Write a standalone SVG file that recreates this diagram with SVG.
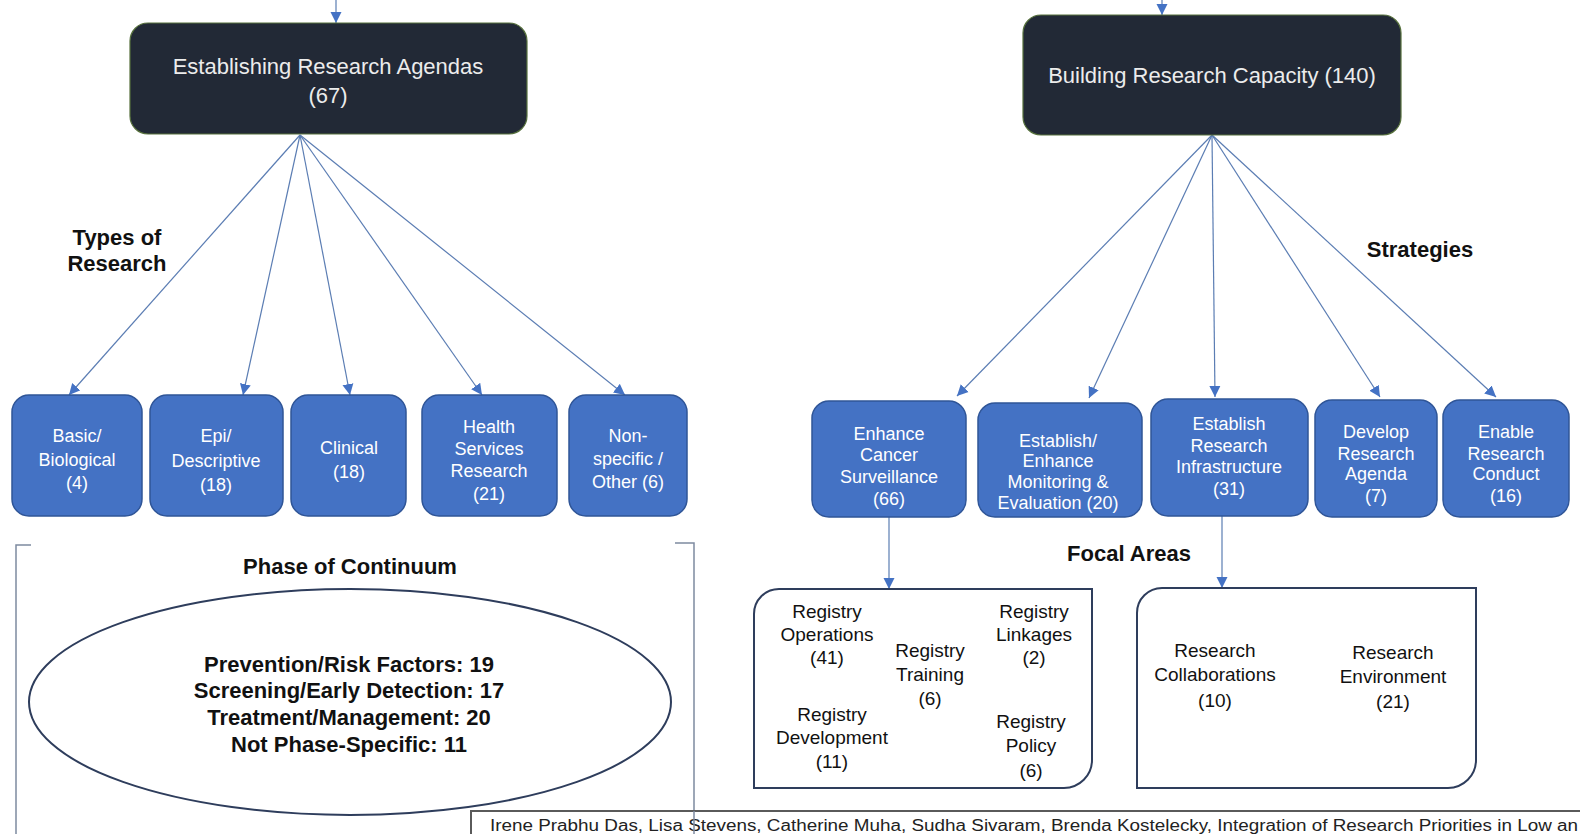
<svg xmlns="http://www.w3.org/2000/svg" width="1580" height="834" viewBox="0 0 1580 834">
<style>
text{font-family:"Liberation Sans",Arial,sans-serif;text-anchor:middle}
.dark{fill:#222936;stroke:#56703c;stroke-width:1.2}
.blue{fill:#4472c4;stroke:#2f5597;stroke-width:1.5}
.dk{fill:#ececec;font-size:22px}
.wt{fill:#ffffff;font-size:18px}
.lb{fill:#111;font-size:22px;font-weight:bold}
.fc{fill:#111;font-size:19px}
.conn{stroke:#5b7db3;stroke-width:1.2;fill:none}
.foc{fill:#fff;stroke:#2e3d5c;stroke-width:2}
.br{stroke:#7d8aa0;stroke-width:1.5;fill:none}
</style>
<defs>
<marker id="ah" markerWidth="12" markerHeight="12" refX="11" refY="6" orient="auto" markerUnits="userSpaceOnUse">
<path d="M0,0.5 L11,6 L0,11.5 z" fill="#4472c4"/>
</marker>
</defs>
<rect width="1580" height="834" fill="#fff"/>

<g id="connectors">
<line class="conn" x1="336" y1="0" x2="336" y2="23" marker-end="url(#ah)"/>
<line class="conn" x1="1162" y1="0" x2="1162" y2="15" marker-end="url(#ah)"/>
<line class="conn" x1="300" y1="135" x2="69" y2="395" marker-end="url(#ah)"/>
<line class="conn" x1="300" y1="135" x2="243" y2="395" marker-end="url(#ah)"/>
<line class="conn" x1="300" y1="135" x2="350" y2="395" marker-end="url(#ah)"/>
<line class="conn" x1="300" y1="135" x2="482" y2="395" marker-end="url(#ah)"/>
<line class="conn" x1="300" y1="135" x2="625" y2="395" marker-end="url(#ah)"/>
<line class="conn" x1="1212" y1="135" x2="957" y2="396" marker-end="url(#ah)"/>
<line class="conn" x1="1212" y1="135" x2="1089" y2="398" marker-end="url(#ah)"/>
<line class="conn" x1="1212" y1="135" x2="1215" y2="397" marker-end="url(#ah)"/>
<line class="conn" x1="1212" y1="135" x2="1380" y2="397" marker-end="url(#ah)"/>
<line class="conn" x1="1212" y1="135" x2="1496" y2="397" marker-end="url(#ah)"/>
<line class="conn" x1="889" y1="517" x2="889" y2="589" marker-end="url(#ah)"/>
<line class="conn" x1="1222" y1="515" x2="1222" y2="588" marker-end="url(#ah)"/>
</g>

<g id="establishing">
<rect class="dark" x="130" y="23" width="397" height="111" rx="18"/>
<text class="dk" x="328" y="74">Establishing Research Agendas</text>
<text class="dk" x="328" y="103">(67)</text>
</g>
<g id="building">
<rect class="dark" x="1023" y="15" width="378" height="120" rx="18"/>
<text class="dk" x="1212" y="83">Building Research Capacity (140)</text>
</g>

<text id="types-label" class="lb"><tspan x="117" y="245">Types of</tspan><tspan x="117" y="271">Research</tspan></text>
<text id="strategies-label" class="lb" x="1420" y="257">Strategies</text>
<text id="focal-label" class="lb" x="1129" y="561">Focal Areas</text>

<g id="basic">
<rect class="blue" x="12" y="395" width="130" height="121" rx="17"/>
<text class="wt"><tspan x="77" y="442">Basic/</tspan><tspan x="77" y="466">Biological</tspan><tspan x="77" y="489">(4)</tspan></text>
</g>
<g id="epi">
<rect class="blue" x="150" y="395" width="133" height="121" rx="17"/>
<text class="wt"><tspan x="216" y="442">Epi/</tspan><tspan x="216" y="467">Descriptive</tspan><tspan x="216" y="491">(18)</tspan></text>
</g>
<g id="clinical">
<rect class="blue" x="291" y="395" width="115" height="121" rx="17"/>
<text class="wt"><tspan x="349" y="454">Clinical</tspan><tspan x="349" y="478">(18)</tspan></text>
</g>
<g id="health">
<rect class="blue" x="422" y="395" width="135" height="121" rx="17"/>
<text class="wt"><tspan x="489" y="433">Health</tspan><tspan x="489" y="455">Services</tspan><tspan x="489" y="477">Research</tspan><tspan x="489" y="500">(21)</tspan></text>
</g>
<g id="nonspecific">
<rect class="blue" x="569" y="395" width="118" height="121" rx="17"/>
<text class="wt"><tspan x="628" y="442">Non-</tspan><tspan x="628" y="465">specific /</tspan><tspan x="628" y="488">Other (6)</tspan></text>
</g>

<g id="surveillance">
<rect class="blue" x="812" y="401" width="154" height="116" rx="17"/>
<text class="wt"><tspan x="889" y="440">Enhance</tspan><tspan x="889" y="461">Cancer</tspan><tspan x="889" y="483">Surveillance</tspan><tspan x="889" y="505">(66)</tspan></text>
</g>
<g id="monitoring">
<rect class="blue" x="978" y="403" width="164" height="114" rx="17"/>
<text class="wt"><tspan x="1058" y="447">Establish/</tspan><tspan x="1058" y="467">Enhance</tspan><tspan x="1058" y="488">Monitoring &amp;</tspan><tspan x="1058" y="509">Evaluation  (20)</tspan></text>
</g>
<g id="infrastructure">
<rect class="blue" x="1151" y="399" width="157" height="117" rx="17"/>
<text class="wt"><tspan x="1229" y="430">Establish</tspan><tspan x="1229" y="452">Research</tspan><tspan x="1229" y="473">Infrastructure</tspan><tspan x="1229" y="495">(31)</tspan></text>
</g>
<g id="agenda">
<rect class="blue" x="1315" y="400" width="122" height="117" rx="17"/>
<text class="wt"><tspan x="1376" y="438">Develop</tspan><tspan x="1376" y="460">Research</tspan><tspan x="1376" y="480">Agenda</tspan><tspan x="1376" y="502">(7)</tspan></text>
</g>
<g id="conduct">
<rect class="blue" x="1443" y="400" width="126" height="117" rx="17"/>
<text class="wt"><tspan x="1506" y="438">Enable</tspan><tspan x="1506" y="460">Research</tspan><tspan x="1506" y="480">Conduct</tspan><tspan x="1506" y="502">(16)</tspan></text>
</g>

<g id="phase">
<path class="br" d="M31,545 H16 V834"/>
<path class="br" d="M675,543 H694 V834"/>
<text class="lb" x="350" y="574">Phase of Continuum</text>
<ellipse cx="350" cy="702" rx="321" ry="113" fill="#fff" stroke="#2e3d5c" stroke-width="2"/>
<text class="lb" x="349" y="672">Prevention/Risk Factors: 19</text>
<text class="lb" x="349" y="698">Screening/Early Detection: 17</text>
<text class="lb" x="349" y="725">Treatment/Management: 20</text>
<text class="lb" x="349" y="752">Not Phase-Specific: 11</text>
</g>

<g id="registry-areas">
<path class="foc" d="M754,614 A25,25 0 0 1 779,589 H1092 V760 A28,28 0 0 1 1064,788 H754 Z"/>
<text class="fc"><tspan x="827" y="618">Registry</tspan><tspan x="827" y="641">Operations</tspan><tspan x="827" y="664">(41)</tspan></text>
<text class="fc"><tspan x="930" y="657">Registry</tspan><tspan x="930" y="681">Training</tspan><tspan x="930" y="705">(6)</tspan></text>
<text class="fc"><tspan x="1034" y="618">Registry</tspan><tspan x="1034" y="641">Linkages</tspan><tspan x="1034" y="664">(2)</tspan></text>
<text class="fc"><tspan x="832" y="721">Registry</tspan><tspan x="832" y="744">Development</tspan><tspan x="832" y="768">(11)</tspan></text>
<text class="fc"><tspan x="1031" y="728">Registry</tspan><tspan x="1031" y="752">Policy</tspan><tspan x="1031" y="777">(6)</tspan></text>
</g>
<g id="research-areas">
<path class="foc" d="M1137,613 A25,25 0 0 1 1162,588 H1476 V760 A28,28 0 0 1 1448,788 H1137 Z"/>
<text class="fc"><tspan x="1215" y="657">Research</tspan><tspan x="1215" y="681">Collaborations</tspan><tspan x="1215" y="707">(10)</tspan></text>
<text class="fc"><tspan x="1393" y="659">Research</tspan><tspan x="1393" y="683">Environment</tspan><tspan x="1393" y="708">(21)</tspan></text>
</g>

<g id="citation">
<rect x="471" y="811" width="1120" height="30" fill="#fff"/>
<path d="M471,834 V811 H1580" fill="none" stroke="#5a5a5a" stroke-width="2"/>
<text x="490" y="831" style="text-anchor:start;font-size:16px;fill:#222" textLength="1088" lengthAdjust="spacingAndGlyphs">Irene Prabhu Das, Lisa Stevens, Catherine Muha, Sudha Sivaram, Brenda Kostelecky, Integration of Research Priorities in Low an</text>
</g>
<path class="br" d="M694,811 V834"/>
</svg>
